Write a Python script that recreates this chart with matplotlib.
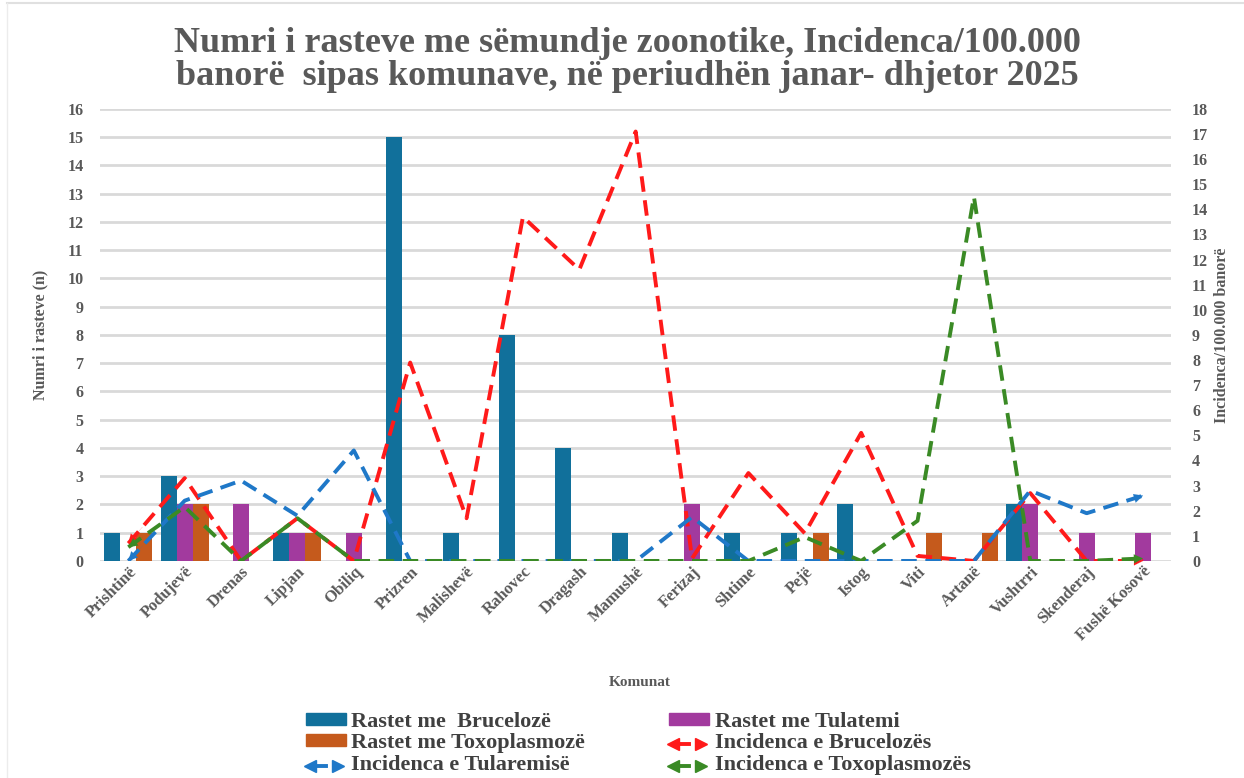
import matplotlib
matplotlib.use("Agg")
import matplotlib.pyplot as plt
import numpy as np
from matplotlib.patches import Patch
from matplotlib.lines import Line2D

# Municipalities
komunat = ["Prishtinë", "Podujevë", "Drenas", "Lipjan", "Obiliq", "Prizren",
           "Malishevë", "Rahovec", "Dragash", "Mamushë", "Ferizaj", "Shtime",
           "Pejë", "Istog", "Viti", "Artanë", "Vushtrri", "Skenderaj",
           "Fushë Kosovë"]

# Number of cases (left axis)
rastet_bruceloze = [1, 3, 0, 1, 0, 15, 1, 8, 4, 1, 0, 1, 1, 2, 0, 0, 2, 0, 0]
rastet_tulatemi = [0, 2, 2, 1, 1, 0, 0, 0, 0, 0, 2, 0, 0, 0, 0, 0, 2, 1, 1]
rastet_toxoplasmoze = [1, 2, 0, 1, 0, 0, 0, 0, 0, 0, 0, 0, 1, 0, 1, 1, 0, 0, 0]

# Incidence per 100.000 inhabitants (right axis)
inc_bruceloze = [0.7, 3.3, 0, 1.7, 0, 7.9, 1.7, 13.7, 11.6, 17.1, 0.1, 3.5,
                 1.1, 5.1, 0.2, 0, 2.7, 0, 0]
inc_tularemi = [0, 2.4, 3.2, 1.8, 4.4, 0, 0, 0, 0, 0, 1.75, 0, 0, 0, 0, 0,
                2.8, 1.9, 2.6]
inc_toxoplasmoze = [0.55, 2.15, 0, 1.7, 0, 0, 0, 0, 0, 0, 0, 0, 0.95, 0, 1.6,
                    14.5, 0, 0, 0.1]

C_BLUE = "#11709b"
C_PURPLE = "#a23a9e"
C_ORANGE = "#c55a1c"
C_RED = "#ff1a1a"
C_LBLUE = "#1f78c8"
C_GREEN = "#3a8a25"
TXT = "#595959"
GRID = "#d9d9d9"

SERIF = ["Liberation Serif", "DejaVu Serif"]
plt.rcParams["font.family"] = SERIF

fig = plt.figure(figsize=(12.44, 7.78), dpi=100)
ax = fig.add_axes([0.0805, 0.279, 0.861, 0.581])
ax2 = ax.twinx()

x = np.arange(len(komunat))
w = 0.284
ax.bar(x - w, rastet_bruceloze, w, color=C_BLUE, zorder=2)
ax.bar(x, rastet_tulatemi, w, color=C_PURPLE, zorder=2)
ax.bar(x + w, rastet_toxoplasmoze, w, color=C_ORANGE, zorder=2)

ax.set_xlim(-0.5, len(komunat) - 0.5)
ax.set_ylim(0, 16)
ax.set_yticks(range(0, 17))
ax.yaxis.grid(True, color=GRID, lw=2.0, zorder=0)
ax.set_axisbelow(True)
for sp in ax.spines.values():
    sp.set_visible(False)
for sp in ax2.spines.values():
    sp.set_visible(False)

ax.tick_params(axis="y", length=0, pad=12, labelsize=11.5, labelcolor=TXT)
ax.tick_params(axis="x", length=0, pad=2, labelsize=12, labelcolor=TXT)
for lab in ax.get_yticklabels():
    lab.set_fontweight("bold")
ax.set_xticks(x)
ax.set_xticklabels(komunat, rotation=45, ha="right", rotation_mode="anchor",
                   fontweight="bold")

ax2.set_ylim(0, 18)
ax2.set_yticks(range(0, 19))
ax2.tick_params(axis="y", length=0, pad=15, labelsize=11.5, labelcolor=TXT)
for lab in ax2.get_yticklabels():
    lab.set_fontweight("bold")


def dashed_with_arrows(axis, values, color):
    axis.plot(x, values, color=color, lw=2.8, linestyle=(0, (4, 2.2)),
              zorder=3, dash_capstyle="butt")
    # arrowhead at the start, pointing back along the first segment
    p0 = np.array([x[0], values[0]], float)
    p1 = np.array([x[1], values[1]], float)
    axis.annotate("", xy=p0, xytext=p0 + 0.25 * (p1 - p0),
                  arrowprops=dict(arrowstyle="-|>", color=color, lw=0.1,
                                  mutation_scale=16, shrinkA=0, shrinkB=0))
    # arrowhead at the end, pointing along the last segment
    q0 = np.array([x[-2], values[-2]], float)
    q1 = np.array([x[-1], values[-1]], float)
    axis.annotate("", xy=q1, xytext=q1 - 0.25 * (q1 - q0),
                  arrowprops=dict(arrowstyle="-|>", color=color, lw=0.1,
                                  mutation_scale=16, shrinkA=0, shrinkB=0))


dashed_with_arrows(ax2, inc_bruceloze, C_RED)
dashed_with_arrows(ax2, inc_tularemi, C_LBLUE)
dashed_with_arrows(ax2, inc_toxoplasmoze, C_GREEN)

ax.set_ylabel("Numri i rasteve (n)", fontsize=11.5, fontweight="bold",
              color=TXT, labelpad=14)
ax2.set_ylabel("Incidenca/100.000 banorë", fontsize=11.5, fontweight="bold",
               color=TXT, rotation=90, labelpad=4)
fig.text(0.514, 1 - 683 / 778, "Komunat", fontsize=11, fontweight="bold",
         color=TXT, ha="center", va="center")

fig.suptitle("Numri i rasteve me sëmundje zoonotike, Incidenca/100.000\n"
             "banorë  sipas komunave, në periudhën janar- dhjetor 2025",
             x=0.504, y=0.965, fontsize=26, fontweight="bold", color=TXT,
             linespacing=1.0)


class ArrowLineHandler:
    def __init__(self, color):
        self.color = color

    def legend_artist(self, legend, orig_handle, fontsize, handlebox):
        x0, y0 = handlebox.xdescent, handlebox.ydescent
        wd, ht = handlebox.width, handlebox.height
        ym = y0 + ht / 2
        line = Line2D([x0 + wd * 0.1, x0 + wd * 0.5], [ym, ym],
                      color=self.color, lw=2.8)
        left = Line2D([x0 + wd * 0.1], [ym], marker="<", color=self.color,
                      markersize=8, lw=0)
        right = Line2D([x0 + wd * 0.8], [ym], marker=">", color=self.color,
                       markersize=8, lw=0)
        for a in (line, left, right):
            handlebox.add_artist(a)
        return line


h_bru = Patch(color=C_BLUE, label="Rastet me  Brucelozë")
h_tox = Patch(color=C_ORANGE, label="Rastet me Toxoplasmozë")
h_itul = Line2D([], [], color=C_LBLUE, label="Incidenca e Tularemisë")
h_tul = Patch(color=C_PURPLE, label="Rastet me Tulatemi")
h_ibru = Line2D([], [], color=C_RED, label="Incidenca e Brucelozës")
h_itox = Line2D([], [], color=C_GREEN, label="Incidenca e Toxoplasmozës")

handles = [h_bru, h_tox, h_itul, h_tul, h_ibru, h_itox]
leg = fig.legend(handles=handles, loc="lower center",
                 bbox_to_anchor=(0.513, -0.002), ncol=2, frameon=False,
                 prop=dict(family=SERIF, weight="bold", size=16),
                 handlelength=1.8, handleheight=0.45, handletextpad=0.25,
                 columnspacing=3.8, labelspacing=0.08, borderaxespad=0,
                 borderpad=0.2,
                 handler_map={h_itul: ArrowLineHandler(C_LBLUE),
                              h_ibru: ArrowLineHandler(C_RED),
                              h_itox: ArrowLineHandler(C_GREEN)})
for t in leg.get_texts():
    t.set_color("#404040")

# faint chart-area border on top and left
fig.add_artist(Line2D([0.006, 1.0], [0.996, 0.996], color="#e0e0e0", lw=1.5,
                      transform=fig.transFigure))
fig.add_artist(Line2D([0.006, 0.006], [0.0, 0.996], color="#ececec", lw=1.0,
                      transform=fig.transFigure))

fig.savefig("out.png", dpi=100, facecolor="white")
